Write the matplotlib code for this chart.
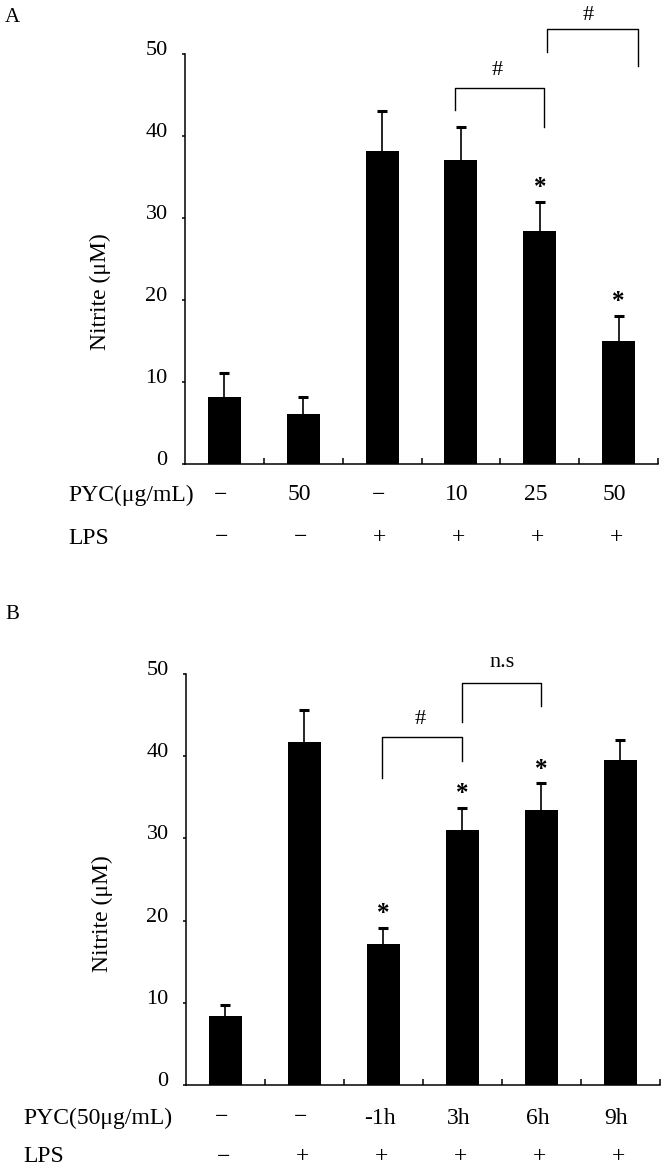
import numpy as np
import matplotlib
matplotlib.use("Agg")
import matplotlib.pyplot as plt
from matplotlib.transforms import blended_transform_factory, ScaledTranslation

plt.rcParams['font.family'] = ['Liberation Serif', 'DejaVu Serif']
plt.rcParams['axes.unicode_minus'] = True

# ---------------- data ----------------
# Panel A
pyc_a = ["\u2212", "50", "\u2212", "10", "25", "50"]
lps_a = ["\u2212", "\u2212", "+", "+", "+", "+"]
means_a = [8.2, 6.1, 38.2, 37.1, 28.4, 15.0]
errs_a = [2.9, 2.1, 4.8, 4.0, 3.6, 3.1]
stars_a = [False, False, False, False, True, True]

# Panel B
pyc_b = ["\u2212", "\u2212", "-1h", "3h", "6h", "9h"]
lps_b = ["\u2212", "+", "+", "+", "+", "+"]
means_b = [8.4, 41.7, 17.2, 31.0, 33.4, 39.5]
errs_b = [1.3, 3.9, 1.9, 2.7, 3.3, 2.5]
stars_b = [False, False, True, True, True, False]

yticks = [0, 10, 20, 30, 40, 50]

# brackets: (x_left, x_right, y_top, y_left_end, y_right_end, label, label_x, label_baseline)
brackets_a = [(2.93, 4.06, 45.9, 43.2, 41.1, "#", 3.46, 47.4),
              (4.09, 5.245, 53.1, 50.3, 48.5, "#", 4.62, 54.1)]
brackets_b = [(1.98, 3.0, 42.3, 37.4, 39.4, "#", 2.47, 43.9),
              (3.0, 4.0, 48.9, 44.1, 46.1, "n.s", 3.5, 50.9)]

W, H = 666, 1173
fig = plt.figure(figsize=(W / 100, H / 100), dpi=100)


def rect(l, r, t, b):
    return [l / W, 1 - b / H, (r - l) / W, (b - t) / H]


FS = 16
FT = 17


def panel(ax, means, errs, stars, brackets, pyc, lps, row_label, row_x,
          row_y1, row_y2, ylab_xy, letter, letter_xy):
    x = np.arange(len(means))
    ax.bar(x, means, width=0.42, color='black', edgecolor='none', zorder=2)
    _, caps, _ = ax.errorbar(x, means, yerr=[np.zeros(len(errs)), errs],
                             fmt='none', ecolor='black', elinewidth=1.2,
                             capsize=3.6, capthick=2.2, zorder=3)
    if len(caps) == 2:
        caps[0].set_visible(False)
    ax.set_xlim(-0.5, len(means) - 0.5)
    ax.set_ylim(0, 50)
    for s in ['top', 'right']:
        ax.spines[s].set_visible(False)
    for s in ['left', 'bottom']:
        ax.spines[s].set_linewidth(1.1)
    ax.set_xticks(np.arange(len(means)) + 0.5)
    ax.set_xticklabels([])
    ax.tick_params(axis='x', direction='in', length=4, width=1.1)
    ax.set_yticks(yticks)
    ax.set_yticklabels([str(v) for v in yticks], fontsize=FS)
    ax.tick_params(axis='y', direction='out', length=2.5, width=1.1, pad=10)
    off = ScaledTranslation(0, 6 / 100, fig.dpi_scale_trans)
    for lab in ax.get_yticklabels():
        lab.set_transform(lab.get_transform() + off)

    # stars
    for i, (m, e, s) in enumerate(zip(means, errs, stars)):
        if s:
            ax.annotate("*", xy=(i, m + e), xytext=(0, 5.5),
                        textcoords='offset points', ha='center',
                        va='baseline', fontsize=FS + 2, fontweight='bold',
                        annotation_clip=False)

    # brackets
    for (x1, x2, yt, yl, yr, lab, lx, ly) in brackets:
        ax.plot([x1, x1, x2, x2], [yl, yt, yt, yr], color='black', lw=1.0,
                clip_on=False)
        ax.text(lx, ly, lab, ha='center', va='baseline', fontsize=FS,
                clip_on=False)

    tr = blended_transform_factory(ax.transData, fig.transFigure)
    for i, (p, l) in enumerate(zip(pyc, lps)):
        ax.text(i - 0.05, 1 - row_y1 / H, p, transform=tr, ha='center',
                va='center', fontsize=FT)
        ax.text(i - 0.03, 1 - row_y2 / H, l, transform=tr, ha='center',
                va='center', fontsize=FT)
    fig.text(row_x / W, 1 - row_y1 / H, row_label, ha='left', va='center',
             fontsize=FT)
    fig.text(row_x / W, 1 - row_y2 / H, "LPS", ha='left', va='center',
             fontsize=FT)
    fig.text(ylab_xy[0] / W, 1 - ylab_xy[1] / H, "Nitrite (\u03bcM)",
             rotation=90, ha='center', va='center', fontsize=FT)
    fig.text(letter_xy[0] / W, 1 - letter_xy[1] / H, letter, ha='center',
             va='center', fontsize=FS - 1)


axA = fig.add_axes(rect(185, 658, 54, 464))
panel(axA, means_a, errs_a, stars_a, brackets_a, pyc_a, lps_a,
      "PYC(\u03bcg/mL)", 68, 495, 538, (100, 292), "A", (12, 17))

axB = fig.add_axes(rect(186, 660, 674, 1085))
panel(axB, means_b, errs_b, stars_b, brackets_b, pyc_b, lps_b,
      "PYC(50\u03bcg/mL)", 23, 1118, 1157, (102, 914), "B", (12, 614))

fig.savefig("out.png", dpi=100)
